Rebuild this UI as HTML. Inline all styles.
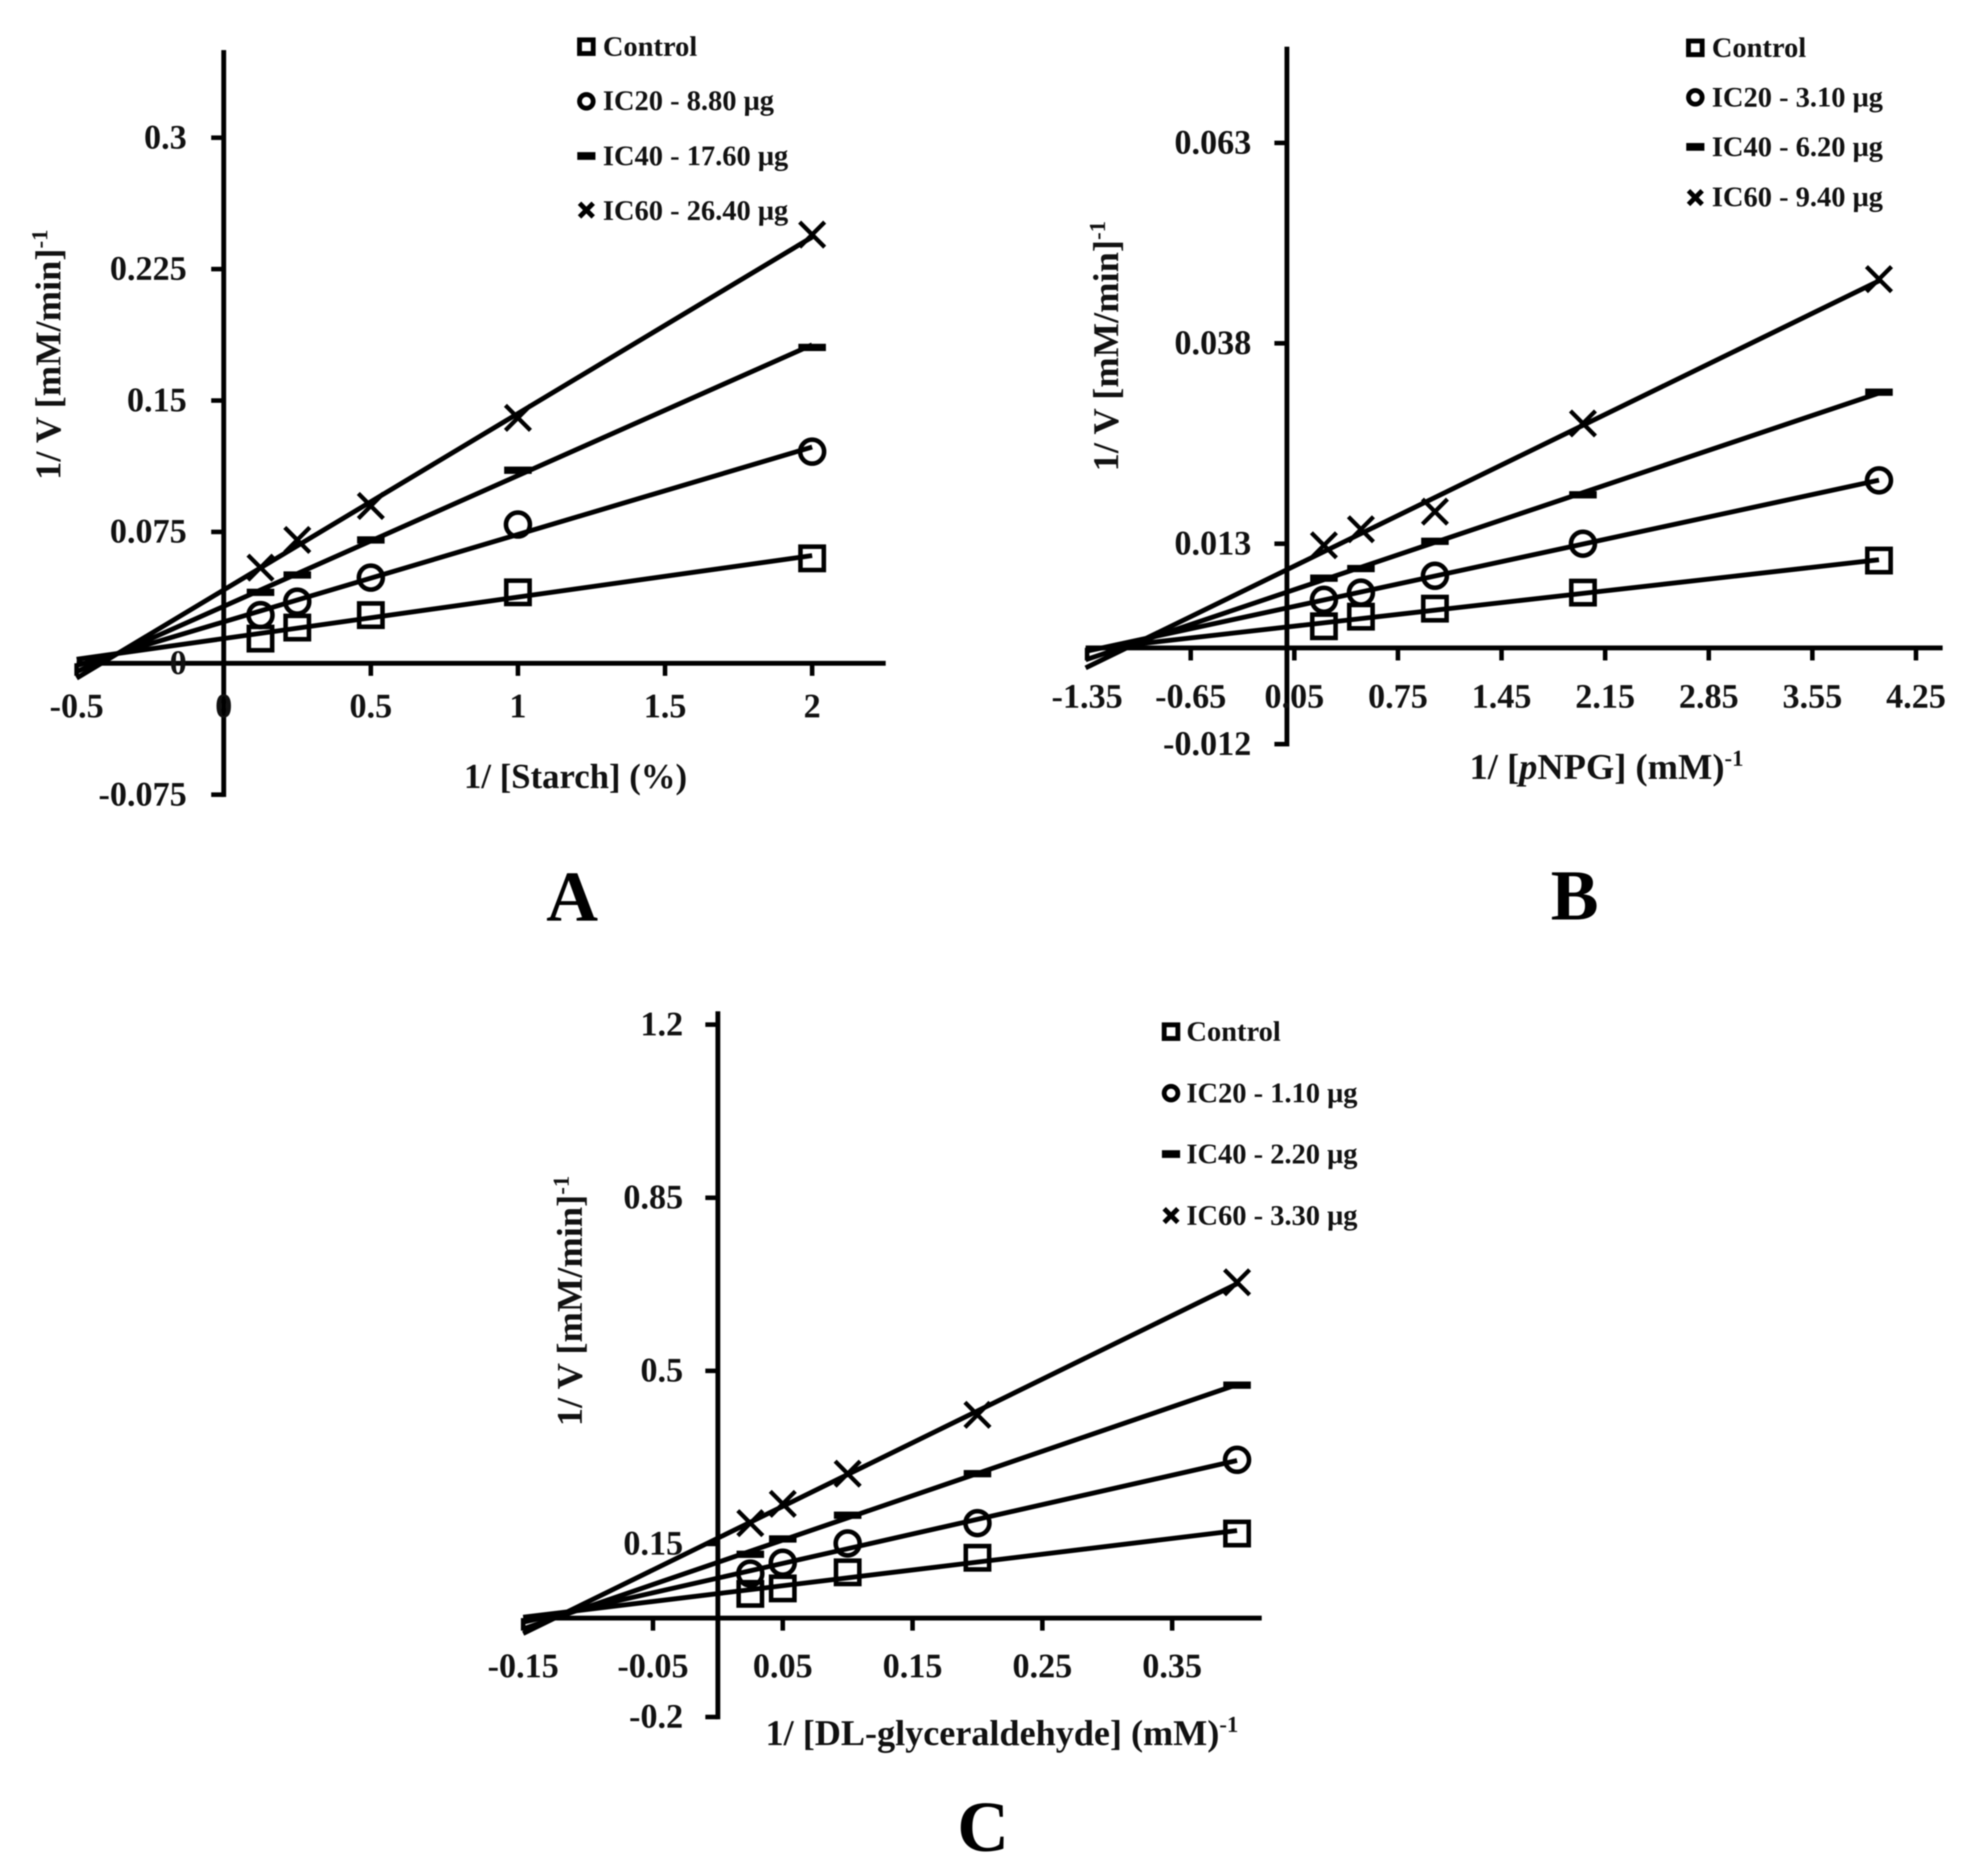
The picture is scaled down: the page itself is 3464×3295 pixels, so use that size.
<!DOCTYPE html>
<html lang="en">
<head>
<meta charset="utf-8">
<title>Lineweaver-Burk plots A, B and C</title>
<style>
  html, body { margin: 0; padding: 0; background: #fff; }
  #figure { display: block; width: 3464px; height: 3295px; filter: blur(1px); }
  text { font-family: "Liberation Serif", "DejaVu Serif", serif; font-weight: bold; fill: #111; }
  .tick-label { font-size: 60px; }
  .axis-title { font-size: 61px; }
  .legend-text { font-size: 50px; }
  .panel-letter { font-size: 126px; text-anchor: middle; fill: #000; }
</style>
</head>
<body>
<svg id="figure" xmlns="http://www.w3.org/2000/svg" width="3464" height="3295" viewBox="0 0 3464 3295">
  <rect width="3464" height="3295" fill="#ffffff"/>

  <g id="chart-a">
    <text class="axis-title" text-anchor="middle" style="font-size:64px" transform="translate(106 623) rotate(-90)">1/ V [mM/min]<tspan dy="-23" font-size="40">-1</tspan></text>
    <text class="axis-title" x="1011" y="1384" text-anchor="middle">1/ [Starch] (%)</text>
    <text class="panel-letter" x="1005" y="1617">A</text>
    <g>
      <text class="legend-text" x="1059" y="98">Control</text>
      <text class="legend-text" x="1059" y="193">IC20 - 8.80 μg</text>
      <text class="legend-text" x="1059" y="290">IC40 - 17.60 μg</text>
      <text class="legend-text" x="1059" y="386">IC60 - 26.40 μg</text>
    </g>
  </g>

  <g id="chart-b">
    <text class="axis-title" text-anchor="middle" style="font-size:64px" transform="translate(1964 608) rotate(-90)">1/ V [mM/min]<tspan dy="-23" font-size="40">-1</tspan></text>
    <text class="axis-title" style="font-size:64px" x="2822" y="1368" text-anchor="middle">1/ [<tspan font-style="italic">p</tspan>NPG] (mM)<tspan dy="-23" font-size="40">-1</tspan></text>
    <text class="panel-letter" x="2766" y="1615">B</text>
    <g>
      <text class="legend-text" x="3007" y="100">Control</text>
      <text class="legend-text" x="3007" y="187">IC20 - 3.10 μg</text>
      <text class="legend-text" x="3007" y="274">IC40 - 6.20 μg</text>
      <text class="legend-text" x="3007" y="362">IC60 - 9.40 μg</text>
    </g>
  </g>

  <g id="chart-c">
    <text class="axis-title" text-anchor="middle" style="font-size:64px" transform="translate(1022 2285) rotate(-90)">1/ V [mM/min]<tspan dy="-23" font-size="40">-1</tspan></text>
    <text class="axis-title" style="font-size:63.5px" x="1760" y="3065" text-anchor="middle">1/ [DL-glyceraldehyde] (mM)<tspan dy="-23" font-size="40">-1</tspan></text>
    <text class="panel-letter" x="1727" y="3251">C</text>
    <g>
      <text class="legend-text" x="2084" y="1828">Control</text>
      <text class="legend-text" x="2084" y="1936">IC20 - 1.10 μg</text>
      <text class="legend-text" x="2084" y="2043">IC40 - 2.20 μg</text>
      <text class="legend-text" x="2084" y="2151">IC60 - 3.30 μg</text>
    </g>
  </g>
</svg>

<script>
// ---- Chart A data (1/[Starch]) ----
const aCategories = [0.125, 0.25, 0.5, 1, 2];
const aControl = [0.0141, 0.0204, 0.0275, 0.0405, 0.0599];
const aIC20 = [0.0275, 0.0352, 0.0489, 0.0792, 0.1208];
const aIC40 = [0.0405, 0.0504, 0.0704, 0.1102, 0.1803];
const aIC60 = [0.0546, 0.0704, 0.0898, 0.1401, 0.2447];
const aXTickLabels = ["-0.5", "0", "0.5", "1", "1.5", "2"];
const aYTickLabels = ["-0.075", "0", "0.075", "0.15", "0.225", "0.3"];

// ---- Chart B data (1/[pNPG]) ----
const bCategories = [0.25, 0.5, 1, 2, 4];
const bControl = [0.0027, 0.0039, 0.0049, 0.0069, 0.0109];
const bIC20 = [0.0060, 0.0069, 0.0090, 0.0130, 0.0209];
const bIC40 = [0.0087, 0.0099, 0.0133, 0.0191, 0.0319];
const bIC60 = [0.0128, 0.0148, 0.0170, 0.0280, 0.0460];
const bXTickLabels = ["-1.35", "-0.65", "0.05", "0.75", "1.45", "2.15", "2.85", "3.55", "4.25"];
const bYTickLabels = ["-0.012", "0.013", "0.038", "0.063"];

// ---- Chart C data (1/[DL-glyceraldehyde]) ----
const cCategories = [0.025, 0.05, 0.1, 0.2, 0.4];
const cControl = [0.049, 0.060, 0.0925, 0.122, 0.171];
const cIC20 = [0.090, 0.112, 0.151, 0.192, 0.320];
const cIC40 = [0.129, 0.160, 0.208, 0.292, 0.471];
const cIC60 = [0.192, 0.231, 0.292, 0.411, 0.679];
const cXTickLabels = ["-0.15", "-0.05", "0.05", "0.15", "0.25", "0.35"];
const cYTickLabels = ["-0.2", "0.15", "0.5", "0.85", "1.2"];

const SVG_NS = "http://www.w3.org/2000/svg";
const INK = "#000000";

function make(tag, parent, attrs) {
  const el = document.createElementNS(SVG_NS, tag);
  for (const k in attrs) el.setAttribute(k, attrs[k]);
  parent.appendChild(el);
  return el;
}

function fitLine(xs, ys) {
  const n = xs.length;
  const mx = xs.reduce((a, b) => a + b, 0) / n;
  const my = ys.reduce((a, b) => a + b, 0) / n;
  let sxy = 0, sxx = 0;
  for (let i = 0; i < n; i++) {
    sxy += (xs[i] - mx) * (ys[i] - my);
    sxx += (xs[i] - mx) * (xs[i] - mx);
  }
  const slope = sxy / sxx;
  return { slope: slope, intercept: my - slope * mx };
}

function drawMarker(parent, kind, cx, cy, size, sw) {
  const h = size / 2;
  let mark;
  if (kind === "square") {
    mark = make("rect", parent, { x: cx - h, y: cy - h, width: size, height: size, fill: "none", stroke: INK, "stroke-width": sw });
  } else if (kind === "circle") {
    mark = make("circle", parent, { cx: cx, cy: cy, r: h, fill: "none", stroke: INK, "stroke-width": sw });
  } else if (kind === "dash") {
    mark = make("rect", parent, { x: cx - size * 0.55, y: cy - sw * 0.8, width: size * 1.1, height: sw * 1.6, fill: INK });
  } else {
    mark = make("path", parent, { d: "M" + (cx - h) + " " + (cy - h) + "L" + (cx + h) + " " + (cy + h) + "M" + (cx + h) + " " + (cy - h) + "L" + (cx - h) + " " + (cy + h), fill: "none", stroke: INK, "stroke-width": sw });
  }
  return mark;
}

function drawChart(cfg) {
  const root = document.getElementById(cfg.id);
  const sx = v => cfg.x0 + cfg.xUnit * v;
  const sy = v => cfg.y0 - cfg.yUnit * v;

  // axes
  const xAxis = make("line", root, { x1: sx(cfg.xMin), x2: sx(cfg.xMax), y1: sy(0), y2: sy(0), stroke: INK, "stroke-width": 8.5 });
  
  
  const yAxis = make("line", root, { x1: sx(0), x2: sx(0), y1: sy(cfg.yMax), y2: sy(cfg.yMin) + 4, stroke: INK, "stroke-width": 8.5 });
  
  

  // x ticks
  cfg.xLabels.forEach(function (label) {
    const v = parseFloat(label);
    const tick = make("line", root, { x1: sx(v), x2: sx(v), y1: sy(0), y2: sy(0) + 22, stroke: INK, "stroke-width": 8 });
    
    
    const text = make("text", root, { x: sx(v), y: cfg.xLabelY, "text-anchor": "middle", "class": "tick-label" });
    text.textContent = label;
    
    
  });

  // y ticks
  cfg.yLabels.forEach(function (label) {
    const v = parseFloat(label);
    const tick = make("line", root, { x1: sx(0) - 22, x2: sx(0), y1: sy(v), y2: sy(v), stroke: INK, "stroke-width": 8 });
    
    
    const text = make("text", root, { x: cfg.yLabelX, y: sy(v) + 19, "text-anchor": "end", "class": "tick-label" });
    text.textContent = label;
    
    
  });

  // series: trend line fitted from the data, then markers
  cfg.series.forEach(function (s) {
    const fit = fitLine(cfg.categories, s.values);
    const xEnd = cfg.categories[cfg.categories.length - 1];
    const line = make("line", root, {
      x1: sx(cfg.xMin), y1: sy(fit.intercept + fit.slope * cfg.xMin),
      x2: sx(xEnd), y2: sy(fit.intercept + fit.slope * xEnd),
      stroke: INK, "stroke-width": 8.5
    });
    
    
    s.values.forEach(function (val, i) {
      const size = s.kind === "circle" ? 42 : (s.kind === "square" ? 41 : 44);
      const mark = drawMarker(root, s.kind, sx(cfg.categories[i]), sy(val), size, s.kind === "x" ? 7.5 : 8);
      
      
    });
  });

  // legend markers
  cfg.legendY.forEach(function (y, i) {
    const s = cfg.series[i];
    const mark = drawMarker(root, s.kind, cfg.legendX, y, s.kind === "dash" ? 29 : 24, 8.5);
    
    
  });
}

drawChart({
  id: "chart-a", x0: 393, xUnit: 516.8, y0: 1165, yUnit: 3077,
  xMin: -0.5, xMax: 2.25, yMin: -0.075, yMax: 0.35,
  xLabels: aXTickLabels, yLabels: aYTickLabels, xLabelY: 1260, yLabelX: 328,
  categories: aCategories,
  series: [
    { name: "control", kind: "square", values: aControl },
    { name: "ic20", kind: "circle", values: aIC20 },
    { name: "ic40", kind: "dash", values: aIC40 },
    { name: "ic60", kind: "x", values: aIC60 }
  ],
  legendX: 1030, legendY: [82, 178, 274, 369]
});

drawChart({
  id: "chart-b", x0: 2260.6, xUnit: 260, y0: 1138, yUnit: 14080,
  xMin: -1.36, xMax: 4.43, yMin: -0.012, yMax: 0.075,
  xLabels: bXTickLabels, yLabels: bYTickLabels, xLabelY: 1243, yLabelX: 2198,
  categories: bCategories,
  series: [
    { name: "control", kind: "square", values: bControl },
    { name: "ic20", kind: "circle", values: bIC20 },
    { name: "ic40", kind: "dash", values: bIC40 },
    { name: "ic60", kind: "x", values: bIC60 }
  ],
  legendX: 2978, legendY: [84, 171, 258, 347]
});

drawChart({
  id: "chart-c", x0: 1261, xUnit: 2280, y0: 2842, yUnit: 868.6,
  xMin: -0.15, xMax: 0.419, yMin: -0.2, yMax: 1.227,
  xLabels: cXTickLabels, yLabels: cYTickLabels, xLabelY: 2946, yLabelX: 1200,
  categories: cCategories,
  series: [
    { name: "control", kind: "square", values: cControl },
    { name: "ic20", kind: "circle", values: cIC20 },
    { name: "ic40", kind: "dash", values: cIC40 },
    { name: "ic60", kind: "x", values: cIC60 }
  ],
  legendX: 2057, legendY: [1812, 1920, 2027, 2135]
});
</script>
</body>
</html>
